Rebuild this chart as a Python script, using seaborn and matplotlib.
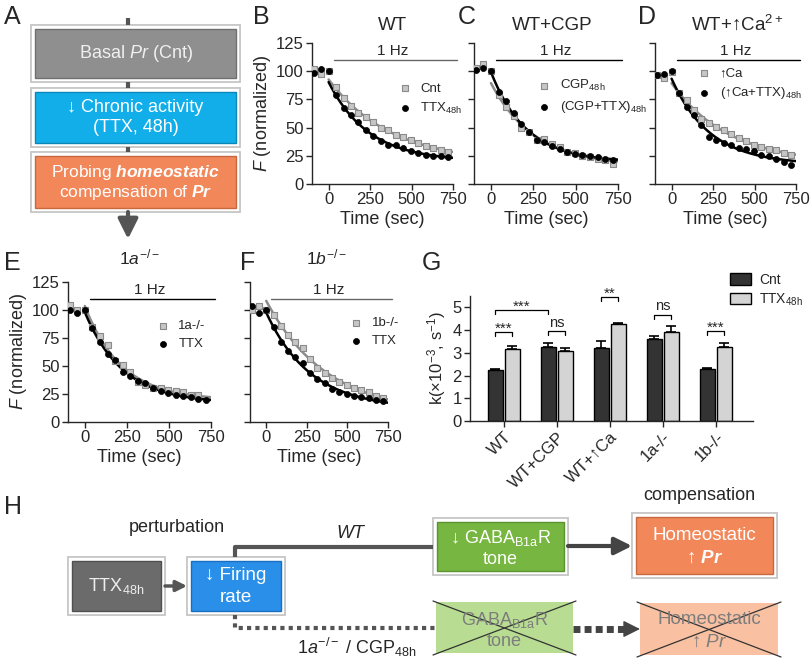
import numpy as np
import pandas as pd
import matplotlib
matplotlib.use('Agg')
import matplotlib.pyplot as plt
import seaborn as sns
from matplotlib.patches import Rectangle

sns.set_style('ticks')
plt.rcParams['font.family'] = ['Liberation Sans', 'DejaVu Sans']
plt.rcParams['mathtext.fontset'] = 'custom'
plt.rcParams['mathtext.rm'] = 'Liberation Sans'
plt.rcParams['mathtext.it'] = 'Liberation Sans:italic'
plt.rcParams['mathtext.bf'] = 'Liberation Sans:bold:italic'
plt.rcParams['mathtext.default'] = 'regular'

# ---- data ----
t = [-90, -45, 0, 45, 90, 135, 180, 225, 270, 315, 360, 405, 450, 495, 540, 585, 630, 675, 720]

wt_cnt = [102, 97.8, 100.5, 86, 76, 69.4, 63, 59.4, 54.7, 50, 48.2, 43.7, 41.7, 39.3, 36.3, 33.4, 32, 30.4, 28.7]
wt_ttx = [98.4, 102, 100.5, 78.6, 67.4, 61, 54.7, 47.6, 42.8, 37.8, 34.9, 34.3, 32, 29, 27.5, 26, 25.1, 24.5, 23.6]

cgp = [103, 106.5, 100.6, 78.6, 68, 60, 49.6, 45.7, 39.2, 39.8, 35.6, 33.2, 28.8, 27.3, 25.2, 24.3, 22.3, 21.4, 17.8]
cgp_ttx = [101.5, 102.4, 100.6, 82, 73.3, 63, 53.4, 45.7, 39.2, 36.8, 33.8, 31.2, 28.8, 26.7, 25.8, 24.9, 23.7, 22.6, 21.4]

ca = [96.4, 94, 99.4, 81, 74.6, 65.7, 57.6, 53.7, 50.7, 47.8, 43.9, 40.9, 38.2, 34.3, 32.8, 31.3, 29.9, 27.8, 25.4]
ca_ttx = [97, 97.6, 100, 80.6, 68.7, 61.2, 52.2, 41.8, 38.8, 36.7, 34.3, 32.2, 30.7, 29, 26, 24.8, 22.4, 19.4, 17]

ko1a = [104.9, 100.4, 99.8, 85, 77, 68.7, 54.8, 51, 45, 36.1, 33.2, 30.2, 30.2, 28.7, 27.8, 26.4, 24.3, 23.7, np.nan]
ko1a_ttx = [99.8, 96.9, 99.8, 83.5, 71.7, 60.4, 55.4, 44.4, 41.2, 37, 34.7, 30.8, 27.3, 25.8, 24.3, 22.8, 22.2, 20.4, 19.8]

ko1b = [99.8, 103.4, 100.4, 95.4, 85.9, 77.6, 71.1, 65.8, 56.3, 48.6, 43.5, 39.1, 35.5, 33.2, 30.8, 28.7, 26.7, 23.4, 21.3]
ko1b_ttx = [103.4, 97.7, 100.4, 85, 71.7, 63.7, 58.4, 52.4, 43.5, 38.5, 34.7, 29.6, 26.7, 25.2, 22.8, 22.2, 21.3, 19.8, 18.4]

groups = ['WT', 'WT+CGP', 'WT+↑Ca', '1a-/-', '1b-/-']
k_cnt = [2.25, 3.26, 3.23, 3.60, 2.30]
k_ttx = [3.17, 3.09, 4.28, 3.92, 3.27]
sem_cnt = [0.06, 0.18, 0.30, 0.13, 0.05]
sem_ttx = [0.12, 0.13, 0.03, 0.26, 0.16]

W, H = 810, 662
fig = plt.figure(figsize=(W / 100, H / 100), dpi=100)


def px_axes(x0, y0, x1, y1):
    return fig.add_axes([x0 / W, 1 - y1 / H, (x1 - x0) / W, (y1 - y0) / H])


def ftext(x, y, s, **kw):
    kw.setdefault('ha', 'center')
    kw.setdefault('va', 'center')
    fig.text(x / W, 1 - y / H, s, **kw)


def fit_curve(vals):
    # single exponential + plateau fitted to the points after stimulation onset
    tt = np.array(t, float)
    ff = np.array(vals, float)
    m = (tt > 0) & ~np.isnan(ff)
    best = None
    for k in np.linspace(0.0008, 0.008, 400):
        X = np.column_stack([np.exp(-k * tt[m]), np.ones(m.sum())])
        coef = np.linalg.lstsq(X, ff[m], rcond=None)[0]
        err = np.sum((X @ coef - ff[m]) ** 2)
        if best is None or err < best[0]:
            best = (err, k, coef)
    tx = np.linspace(0, 750, 200)
    return tx, best[2][0] * np.exp(-best[1] * tx) + best[2][1]


# background axes for the flow diagrams (A, H)
bg = fig.add_axes([0, 0, 1, 1])
bg.set_xlim(0, W)
bg.set_ylim(H, 0)
bg.axis('off')


def box(x0, y0, x1, y1, face, edge, texts, tcolor='white', fs=12.5, border=True, crossed=False):
    if border:
        bg.add_patch(Rectangle((x0 - 1, y0 - 1), x1 - x0 + 2, y1 - y0 + 2, fc='#e6e6e6', ec='none'))
        bg.add_patch(Rectangle((x0, y0), x1 - x0, y1 - y0, fc='white', ec='#c4c4c4', lw=1.2))
        p = 4
    else:
        p = 0
    bg.add_patch(Rectangle((x0 + p, y0 + p), x1 - x0 - 2 * p, y1 - y0 - 2 * p, fc=face, ec=edge, lw=1))
    for (s, ty) in texts:
        bg.text((x0 + x1) / 2, ty, s, ha='center', va='center', color=tcolor, fontsize=fs)
    if crossed:
        bg.plot([x0 - 3, x1 + 3], [y0 - 1, y1 + 2], color='#333333', lw=0.9)
        bg.plot([x0 - 3, x1 + 3], [y1 + 2, y0 - 1], color='#333333', lw=0.9)


# ---- panel A ----
for ys in ([18, 25], [82, 88], [147, 152]):
    bg.plot([128, 128], ys, color='#555555', lw=3, solid_capstyle='butt')
box(31, 25, 240, 82, '#8f8f8f', '#707070', [('Basal $\\mathit{Pr}$ (Cnt)', 54)], tcolor='#f0f0f0', fs=13)
box(31, 88, 240, 147, '#12aeea', '#0a86b8', [('↓ Chronic activity', 108), ('(TTX, 48h)', 128)], fs=13)
box(31, 152, 240, 212, '#f2875a', '#c8683e', [('Probing $\\mathbf{homeostatic}$', 172), ('compensation of $\\mathbf{Pr}$', 193)], fs=12.5)
bg.annotate('', xy=(128, 239), xytext=(128, 212),
            arrowprops=dict(arrowstyle='-|>', color='#555555', lw=3, mutation_scale=30, shrinkA=0, shrinkB=0))

# ---- panels B-F ----
curve_panels = [
    # (box px, sq, dot, sq label, dot label, sq line colour, legend anchor, ylabels, hz colour)
    ((312, 43, 453, 184), wt_cnt, wt_ttx, 'Cnt', 'TTX$_{48h}$', '#8c8c8c', (0.61, 0.72), True, '#666666'),
    ((474, 43, 618, 184), cgp, cgp_ttx, 'CGP$_{48h}$', '(CGP+TTX)$_{48h}$', '#8c8c8c', (0.44, 0.75), False, 'black'),
    ((655, 43, 796, 184), ca, ca_ttx, '↑Ca', '(↑Ca+TTX)$_{48h}$', '#8c8c8c', (0.30, 0.83), False, 'black'),
    ((68, 282, 211, 422), ko1a, ko1a_ttx, '1a-/-', 'TTX', '#8c8c8c', (0.615, 0.73), True, 'black'),
    ((250, 282, 388, 422), ko1b, ko1b_ttx, '1b-/-', 'TTX', '#8c8c8c', (0.72, 0.75), False, '#666666'),
]

for (bx, sq, dot, lab1, lab2, lc, lxy, ylab, hzc) in curve_panels:
    ax = px_axes(*bx)
    for vals, col in ((sq, lc), (dot, 'black')):
        tx, fy = fit_curve(vals)
        sns.lineplot(x=tx, y=fy, color=col, lw=1.8, ax=ax, legend=False, estimator=None, zorder=2)
    d1 = pd.DataFrame({'t': t, 'F': sq}).dropna()
    d2 = pd.DataFrame({'t': t, 'F': dot}).dropna()
    sns.scatterplot(data=d1, x='t', y='F', marker='s', s=19, color='#c6c6c6', edgecolor='#8a8a8a',
                    linewidth=0.8, label=lab1, ax=ax, zorder=3)
    sns.scatterplot(data=d2, x='t', y='F', marker='o', s=19, color='black', edgecolor='black',
                    linewidth=0.5, label=lab2, ax=ax, zorder=4)
    ax.set_xlim(-100, 750)
    ax.set_ylim(0, 125)
    ax.set_xticks([0, 250, 500, 750])
    ax.set_yticks([0, 25, 50, 75, 100, 125])
    ax.tick_params(labelsize=12, length=4, width=1, pad=2)
    for sp in ax.spines.values():
        sp.set_linewidth(1)
    sns.despine(ax=ax)
    ax.set_xlabel('Time (sec)', fontsize=13, labelpad=3)
    if ylab:
        ax.set_ylabel('$\\mathit{F}$ (normalized)', fontsize=13, labelpad=2)
    else:
        ax.set_ylabel('')
        ax.set_yticklabels([])
    ax.plot([30, 775], [110, 110], color=hzc, lw=1, clip_on=False)
    ax.text(385, 112, '1 Hz', ha='center', va='bottom', fontsize=11)
    ax.legend(loc='upper left', bbox_to_anchor=lxy, frameon=False, fontsize=9.5,
              handlelength=1, handletextpad=0.7, borderpad=0, borderaxespad=0, labelspacing=0.45)

# ---- panel G ----
axg = px_axes(470, 296, 753, 421)
dfk = pd.DataFrame({'group': groups * 2,
                    'cond': ['Cnt'] * 5 + ['TTX$_{48h}$'] * 5,
                    'k': k_cnt + k_ttx})
sns.barplot(data=dfk, x='group', y='k', hue='cond', palette=['#333333', '#d4d4d4'],
            edgecolor='black', linewidth=1, width=0.64, gap=0.12, errorbar=None, ax=axg)
for cont, sems in zip(axg.containers, [sem_cnt, sem_ttx]):
    for bar, e in zip(cont, sems):
        xc = bar.get_x() + bar.get_width() / 2
        axg.errorbar(xc, bar.get_height(), yerr=[[0], [e]], color='black', lw=1.2,
                     capsize=3.5, capthick=1.2, zorder=5)
axg.set_xlim(-0.64, 4.7)
axg.set_ylim(0, 5.5)
axg.set_yticks([0, 1, 2, 3, 4, 5])
axg.set_xticks(range(5))
axg.set_xticklabels(groups, rotation=45, ha='right', rotation_mode='anchor', fontsize=12)
axg.tick_params(axis='y', labelsize=12)
axg.tick_params(length=4, width=1, pad=2)
axg.set_xlabel('')
axg.set_ylabel('k(×10$^{-3}$, s$^{-1}$)', fontsize=12, labelpad=3)
for sp in axg.spines.values():
    sp.set_linewidth(1)
sns.despine(ax=axg)
axg.legend(title=None, loc='upper left', bbox_to_anchor=(730 / W, 1 - 273 / H),
           bbox_transform=fig.transFigure, frameon=False, fontsize=10, handlelength=1.5,
           handleheight=0.9, labelspacing=0.3, handletextpad=0.6, borderpad=0, borderaxespad=0)

off = 0.16
brackets = [
    (0 - off, 0 + off, 3.9, '***'),
    (0 - off, 1 - off, 4.87, '***'),
    (1 - off, 1 + off, 3.94, 'ns'),
    (2 - off, 2 + off, 5.44, '**'),
    (3 - off, 3 + off, 4.68, 'ns'),
    (4 - off, 4 + off, 3.94, '***'),
]
for x0, x1, yb, s in brackets:
    axg.plot([x0, x0, x1, x1], [yb - 0.17, yb, yb, yb - 0.17], color='black', lw=0.9, clip_on=False)
    if s == 'ns':
        axg.text((x0 + x1) / 2, yb + 0.05, s, ha='center', va='bottom', fontsize=10.5)
    else:
        axg.text((x0 + x1) / 2, yb - 0.14, s, ha='center', va='bottom', fontsize=11)

# ---- panel H ----
bg.text(177, 527, 'perturbation', ha='center', va='center', fontsize=13)
bg.text(699, 495, 'compensation', ha='center', va='center', fontsize=13)
bg.text(350, 533, 'WT', ha='center', va='center', fontsize=13, style='italic')
bg.text(357, 647, '$\\mathit{1a}^{-/-}$ / CGP$_{48h}$', ha='center', va='center', fontsize=13)

box(68, 557, 165, 615, '#6b6b6b', '#505050', [('TTX$_{48h}$', 586)], tcolor='#eeeeee', fs=13)
box(187, 557, 285, 615, '#2a8fe8', '#1a6fc0', [('↓ Firing', 575), ('rate', 598)], fs=13.5)
box(433, 518, 568, 575, '#77b640', '#5a9330', [('↓ GABA$_{B1a}$R', 538), ('tone', 560)], fs=13)
box(632, 513, 777, 578, '#f2885a', '#c8683e', [('Homeostatic', 536), ('↑ $\\mathbf{Pr}$', 558)], fs=13.5)
box(436, 602, 573, 653, '#b8dd92', 'none', [('GABA$_{B1a}$R', 620), ('tone', 642)],
    tcolor='#7d7d7d', fs=13, border=False, crossed=True)
box(640, 603, 778, 655, '#f9c0a2', 'none', [('Homeostatic', 620), ('↑ $\\mathit{Pr}$', 642)],
    tcolor='#7d7d7d', fs=13.5, border=False, crossed=True)

bg.annotate('', xy=(187, 586), xytext=(165, 586),
            arrowprops=dict(arrowstyle='-|>', color='#555555', lw=2.5, mutation_scale=16, shrinkA=0, shrinkB=0))
bg.plot([235, 235, 433], [557, 547, 547], color='#555555', lw=3, solid_capstyle='butt')
bg.annotate('', xy=(632, 546), xytext=(568, 546),
            arrowprops=dict(arrowstyle='-|>', color='#444444', lw=3, mutation_scale=26, shrinkA=0, shrinkB=0))
bg.plot([235, 235, 436], [615, 628, 628], color='#555555', lw=3, linestyle=(0, (1, 1)))
bg.plot([573, 625], [629, 629], color='#444444', lw=5, linestyle=(0, (1, 0.6)))
bg.annotate('', xy=(640, 629), xytext=(622, 629),
            arrowprops=dict(arrowstyle='-|>', color='#444444', lw=1, mutation_scale=26, shrinkA=0, shrinkB=0))

# ---- titles and panel letters ----
ftext(392, 25, 'WT', fontsize=13.5)
ftext(552, 25, 'WT+CGP', fontsize=13.5)
ftext(737, 24, 'WT+↑Ca$^{2+}$', fontsize=13.5)
ftext(140, 257, '$\\mathit{1a}^{-/-}$', fontsize=12.5)
ftext(327, 257, '$\\mathit{1b}^{-/-}$', fontsize=12.5)
for s, x, y in [('A', 12, 17), ('B', 261, 17), ('C', 467, 17), ('D', 647, 17),
                ('E', 12, 263), ('F', 248, 263), ('G', 431, 263), ('H', 13, 507)]:
    ftext(x, y, s, fontsize=18)

fig.savefig('out.png', dpi=100)
